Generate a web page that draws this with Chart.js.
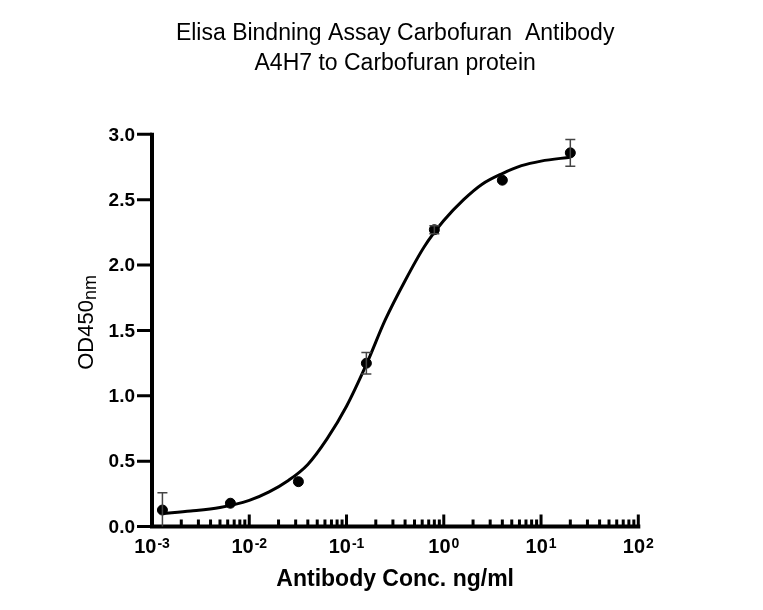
<!DOCTYPE html>
<html>
<head>
<meta charset="utf-8">
<title>Elisa Binding Assay</title>
<script src="https://cdn.jsdelivr.net/npm/chart.js@4.4.1/dist/chart.umd.min.js"></script>
<style>
    html, body { margin: 0; padding: 0; background: #ffffff; }
    canvas { display: block; }
</style>
</head>
<body>
<canvas id="elisaChart" width="763" height="610"></canvas>
<script>
// ==================== DATA ====================

var concentrations = [0.00128, 0.0064, 0.032, 0.16, 0.8, 4, 20];
var odValues = [0.126, 0.178, 0.343, 1.249, 2.27, 2.649, 2.858];
var odErrors = [0.133, 0, 0, 0.082, 0.03, 0, 0.102];

// fitted curve
var curveX = [0.00128, 0.0025, 0.005, 0.01, 0.016, 0.025, 0.04, 0.063, 0.1, 0.16, 0.25, 0.4, 0.63, 1, 1.6, 2.5, 4, 6.3, 10, 20];
var curveY = [0.10, 0.118, 0.145, 0.20, 0.265, 0.35, 0.475, 0.67, 0.92, 1.24, 1.58, 1.88, 2.14, 2.34, 2.50, 2.62, 2.70, 2.76, 2.795, 2.825];

var yTicks = [0, 0.5, 1, 1.5, 2, 2.5, 3];
var yTickLabels = ["0.0", "0.5", "1.0", "1.5", "2.0", "2.5", "3.0"];
var xDecades = [0.001, 0.01, 0.1, 1, 10, 100];
var xExponents = ["-3", "-2", "-1", "0", "1", "2"];
var xMinorSteps = [2, 3, 4, 5, 6, 7, 8, 9];

var titleLines = ["Elisa Bindning Assay Carbofuran  Antibody", "A4H7 to Carbofuran protein"];
var xTitle = "Antibody Conc. ng/ml";
var yTitle = "OD450";
var yTitleSub = "nm";

var FONT = '"Liberation Sans", Arial, Helvetica, sans-serif';

function toPoints(xs, ys) {
    var pts = [];
    for (var i = 0; i < xs.length; i++) {
        pts.push({ x: xs[i], y: ys[i] });
    }
    return pts;
}

// ==================== AXES (GraphPad style) ====================

var axesPlugin = {
    id: "prismAxes",
    beforeDatasetsDraw: function(chart) {
        var ctx = chart.ctx;
        var xs = chart.scales.x;
        var ys = chart.scales.y;
        var area = chart.chartArea;
        var i, j, px, py;

        ctx.save();
        ctx.strokeStyle = "#000000";
        ctx.fillStyle = "#000000";
        ctx.lineCap = "butt";

        // axis lines
        ctx.lineWidth = 4;
        ctx.beginPath();
        ctx.moveTo(area.left, ys.getPixelForValue(3) - 1.5);
        ctx.lineTo(area.left, area.bottom + 2);
        ctx.moveTo(area.left - 2, area.bottom);
        ctx.lineTo(xs.getPixelForValue(100) + 2, area.bottom);
        ctx.stroke();

        // y ticks (outward)
        ctx.lineWidth = 3;
        ctx.beginPath();
        for (i = 0; i < yTicks.length; i++) {
            py = ys.getPixelForValue(yTicks[i]);
            ctx.moveTo(area.left - 15, py);
            ctx.lineTo(area.left, py);
        }
        ctx.stroke();

        // y tick labels
        ctx.font = "bold 19px " + FONT;
        ctx.textAlign = "right";
        ctx.textBaseline = "middle";
        for (i = 0; i < yTicks.length; i++) {
            py = ys.getPixelForValue(yTicks[i]);
            ctx.fillText(yTickLabels[i], area.left - 17, py + 1);
        }

        // x ticks (inward, minor + major)
        ctx.lineWidth = 3;
        ctx.beginPath();
        for (i = 0; i < xDecades.length; i++) {
            if (i > 0) {
                px = xs.getPixelForValue(xDecades[i]);
                ctx.moveTo(px, area.bottom);
                ctx.lineTo(px, area.bottom - 12);
            }
            if (i < xDecades.length - 1) {
                for (j = 0; j < xMinorSteps.length; j++) {
                    px = xs.getPixelForValue(xDecades[i] * xMinorSteps[j]);
                    ctx.moveTo(px, area.bottom);
                    ctx.lineTo(px, area.bottom - 7);
                }
            }
        }
        ctx.stroke();

        // x tick labels 10^n
        ctx.textBaseline = "alphabetic";
        ctx.textAlign = "left";
        for (i = 0; i < xDecades.length; i++) {
            px = xs.getPixelForValue(xDecades[i]);
            ctx.font = "bold 20px " + FONT;
            var wBase = ctx.measureText("10").width;
            ctx.font = "bold 14px " + FONT;
            var wExp = ctx.measureText(xExponents[i]).width;
            var start = px - (wBase + 1 + wExp) / 2;
            ctx.font = "bold 20px " + FONT;
            ctx.fillText("10", start, area.bottom + 26);
            ctx.font = "bold 14px " + FONT;
            ctx.fillText(xExponents[i], start + wBase + 1, area.bottom + 21);
        }

        // x title
        ctx.font = "bold 23px " + FONT;
        ctx.textAlign = "center";
        ctx.fillText(xTitle, (area.left + area.right) / 2, area.bottom + 59);

        // y title with subscript
        ctx.font = "22px " + FONT;
        var wMain = ctx.measureText(yTitle).width;
        ctx.font = "18px " + FONT;
        var wSub = ctx.measureText(yTitleSub).width;
        var cy = (area.top + area.bottom) / 2 - 8;
        ctx.translate(area.left - 59, cy + (wMain + wSub) / 2);
        ctx.rotate(-Math.PI / 2);
        ctx.textAlign = "left";
        ctx.font = "22px " + FONT;
        ctx.fillText(yTitle, 0, 0);
        ctx.font = "18px " + FONT;
        ctx.fillText(yTitleSub, wMain, 3);

        ctx.restore();
    }
};

// ==================== ERROR BARS ====================

var errorBarPlugin = {
    id: "errorBars",
    afterDatasetsDraw: function(chart) {
        var ctx = chart.ctx;
        var xs = chart.scales.x;
        var ys = chart.scales.y;
        ctx.save();
        ctx.strokeStyle = "#444444";
        ctx.lineWidth = 1.5;
        for (var i = 0; i < concentrations.length; i++) {
            if (!odErrors[i]) continue;
            var px = xs.getPixelForValue(concentrations[i]);
            var top = ys.getPixelForValue(odValues[i] + odErrors[i]);
            var bot = ys.getPixelForValue(Math.max(0, odValues[i] - odErrors[i]));
            ctx.beginPath();
            ctx.moveTo(px, top);
            ctx.lineTo(px, bot);
            ctx.moveTo(px - 5, top);
            ctx.lineTo(px + 5, top);
            if (odValues[i] - odErrors[i] > 0.01) {
                ctx.moveTo(px - 5, bot);
                ctx.lineTo(px + 5, bot);
            }
            ctx.stroke();
        }
        ctx.restore();
    }
};

// ==================== CHART ====================

var ctx = document.getElementById("elisaChart").getContext("2d");

var elisaChart = new Chart(ctx, {
    type: "scatter",
    data: {
        datasets: [
            {
                label: "OD450",
                data: toPoints(concentrations, odValues),
                backgroundColor: "#000000",
                borderColor: "#000000",
                pointRadius: 5,
                pointHoverRadius: 5,
                order: 0
            },
            {
                label: "Fit",
                data: toPoints(curveX, curveY),
                showLine: true,
                borderColor: "#000000",
                borderWidth: 3,
                pointRadius: 0,
                cubicInterpolationMode: "monotone",
                fill: false,
                order: 1
            }
        ]
    },
    options: {
        responsive: false,
        animation: false,
        layout: {
            padding: { left: 152, right: 124.7, top: 0, bottom: 83.5 }
        },
        scales: {
            x: {
                type: "logarithmic",
                min: 0.001,
                max: 100,
                display: false
            },
            y: {
                type: "linear",
                min: 0,
                max: 3,
                display: false
            }
        },
        plugins: {
            legend: { display: false },
            tooltip: { enabled: false },
            title: {
                display: true,
                text: titleLines,
                color: "#000000",
                font: { family: FONT, size: 23, weight: "normal", lineHeight: 1.3 },
                padding: { top: 19, bottom: 55.5 }
            }
        }
    },
    plugins: [axesPlugin, errorBarPlugin]
});
</script>
</body>
</html>
